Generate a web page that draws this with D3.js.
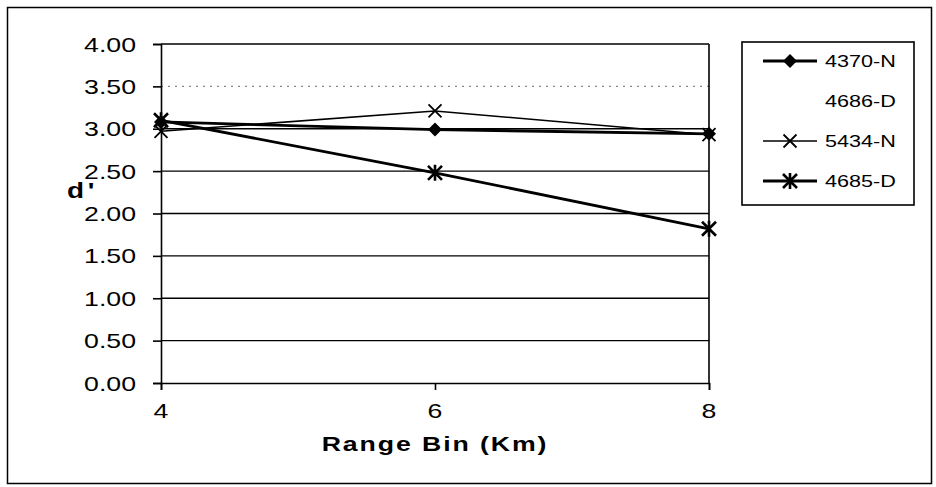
<!DOCTYPE html>
<html>
<head>
<meta charset="utf-8">
<script src="https://cdn.jsdelivr.net/npm/d3@7"></script>
<style>
  body { margin: 0; background: #fff; }
  text { font-family: "Liberation Sans", Arial, sans-serif; fill: #000; }
</style>
</head>
<body>
<div id="chart"></div>
<script>
// 데이터
const rangeBins = [4, 6, 8];
const yTicks = [0, 0.5, 1, 1.5, 2, 2.5, 3, 3.5, 4];
const seriesNames = ["4370-N", "4686-D", "5434-N", "4685-D"];
const v4370N = [3.08, 2.99, 2.94];
const v4686D = []; // 그림에서 선이 보이지 않음 (범례만 있음)
const v5434N = [2.97, 3.21, 2.93];
const v4685D = [3.10, 2.48, 1.82];

const width = 936, height = 487;
const sx = 1.27; // 스캔 이미지의 가로 늘어남

const svg = d3.select("#chart").append("svg")
  .attr("width", width).attr("height", height);

// 바깥 테두리
svg.append("rect")
  .attr("x", 7.5).attr("y", 7.5).attr("width", 924).attr("height", 476)
  .attr("fill", "none").attr("stroke", "#000").attr("stroke-width", 1.5);

const x = d3.scaleLinear().domain([4, 8]).range([161, 709]);
const y = d3.scaleLinear().domain([0, 4]).range([383, 44]);

// 늘어난 글자 그리기
function stretched(g, tx, ty, str, size, anchor, weight, spacing) {
  return g.append("text")
    .attr("transform", `translate(${tx},${ty}) scale(${sx},1)`)
    .attr("text-anchor", anchor)
    .style("font-size", size + "px")
    .style("font-weight", weight || "normal")
    .style("letter-spacing", (spacing || 0) + "px")
    .text(str);
}

// 격자선
svg.append("g").selectAll("line").data(yTicks.filter(d => d > 0)).enter().append("line")
  .attr("x1", x(4)).attr("x2", x(8))
  .attr("y1", d => y(d)).attr("y2", d => y(d))
  .attr("stroke", d => d === 3.5 ? "#888" : "#000")
  .attr("stroke-dasharray", d => d === 3.5 ? "2,5" : null)
  .attr("stroke-width", d => d === 4 ? 1.6 : 1.4);

// 오른쪽 테두리
svg.append("line").attr("x1", x(8)).attr("x2", x(8)).attr("y1", y(4)).attr("y2", y(0))
  .attr("stroke", "#000").attr("stroke-width", 1.6);

// 축
const yAxis = d3.axisLeft(y).tickValues(yTicks).tickSize(8).tickFormat("");
svg.append("g").attr("transform", `translate(${x(4)},0)`).call(yAxis)
  .call(g => g.selectAll("line,path").attr("stroke", "#000").attr("stroke-width", 1.6));
const xAxis = d3.axisBottom(x).tickValues(rangeBins).tickSize(7).tickFormat("");
svg.append("g").attr("transform", `translate(0,${y(0)})`).call(xAxis)
  .call(g => g.selectAll("line,path").attr("stroke", "#000").attr("stroke-width", 1.6));

// 눈금 글자
yTicks.forEach(t => stretched(svg, 136, y(t) + 7.5, d3.format(".2f")(t), 21, "end"));
rangeBins.forEach(b => stretched(svg, x(b), 418, String(b), 21, "middle"));

stretched(svg, 435, 451, "Range Bin (Km)", 21, "middle", "bold", 1.5);
stretched(svg, 67, 198, "d'", 22, "start", "bold", 3);

// 선과 표식
const line = d3.line().x((d, i) => x(rangeBins[i])).y(d => y(d));
const series = [
  { name: "4370-N", values: v4370N, w: 2.8, mark: "diamond" },
  { name: "4686-D", values: v4686D, w: 0, mark: "none" },
  { name: "5434-N", values: v5434N, w: 1.6, mark: "x" },
  { name: "4685-D", values: v4685D, w: 2.8, mark: "star" }
];

function drawMark(g, type, cx, cy) {
  if (type === "diamond") {
    g.append("path").attr("d", `M${cx},${cy - 7}L${cx + 7},${cy}L${cx},${cy + 7}L${cx - 7},${cy}Z`)
      .attr("fill", "#000");
  } else if (type === "x") {
    g.append("path").attr("d", `M${cx - 6.5},${cy - 6.5}L${cx + 6.5},${cy + 6.5}M${cx - 6.5},${cy + 6.5}L${cx + 6.5},${cy - 6.5}`)
      .attr("stroke", "#000").attr("stroke-width", 1.8);
  } else if (type === "star") {
    g.append("path").attr("d", `M${cx - 7},${cy - 7}L${cx + 7},${cy + 7}M${cx - 7},${cy + 7}L${cx + 7},${cy - 7}M${cx},${cy - 8}L${cx},${cy + 8}`)
      .attr("stroke", "#000").attr("stroke-width", 2.6);
  }
}

const plot = svg.append("g");
series.forEach(s => {
  if (!s.values.length) return;
  plot.append("path").datum(s.values).attr("d", line)
    .attr("fill", "none").attr("stroke", "#000").attr("stroke-width", s.w);
  s.values.forEach((v, i) => drawMark(plot, s.mark, x(rangeBins[i]), y(v)));
});

// 범례
const legend = svg.append("g");
legend.append("rect").attr("x", 742).attr("y", 42).attr("width", 172).attr("height", 163)
  .attr("fill", "none").attr("stroke", "#000").attr("stroke-width", 1.6);
series.forEach((s, i) => {
  const ly = 61 + i * 40;
  if (s.w > 0) {
    legend.append("line").attr("x1", 763).attr("x2", 817).attr("y1", ly).attr("y2", ly)
      .attr("stroke", "#000").attr("stroke-width", s.w);
    drawMark(legend, s.mark, 790, ly);
  }
  stretched(legend, 825, ly + 6, seriesNames[i], 17, "start");
});
</script>
</body>
</html>
